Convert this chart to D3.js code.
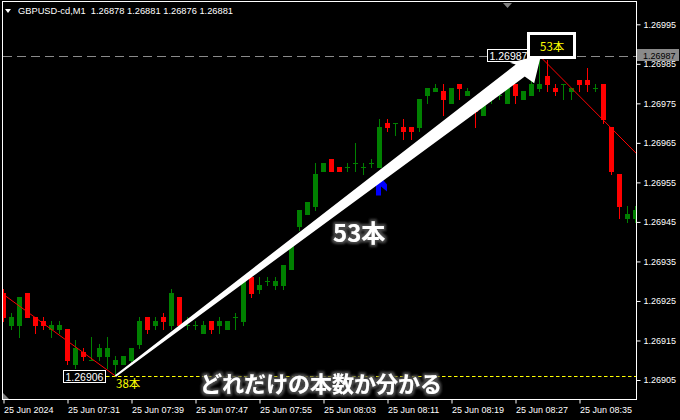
<!DOCTYPE html>
<html><head><meta charset="utf-8">
<script src="https://cdn.jsdelivr.net/npm/d3@7"></script>
<style>html,body{margin:0;padding:0;background:#000;}svg{display:block;}</style>
</head><body>
<svg id="c" width="680" height="420"></svg>
<script>
// ---- data (bar index 0 = 25 Jun 07:23, M1 bars) ----
const opens  = [1.26927,1.26919,1.26919,1.26927,1.26921,1.26920,1.26918,1.26918,1.26918,1.26909,
                1.26912,1.26910,1.26911,1.26911,1.26909,1.26909,1.26910,1.26914,1.26921,1.26919,
                1.26921,1.26919,1.26926,1.26919,1.26919,1.26917,1.26920,1.26919,1.26918,1.26921,
                1.26920,1.26931,1.26928,1.26930,1.26929,1.26929,1.26933,1.26944,1.26947,1.26949,
                1.26958,1.26961,1.26959,1.26959,1.26960,1.26959,1.26960,1.26959,1.26970,1.26970,
                1.26969,1.26969,1.26969,1.26977,1.26978,1.26978,1.26975,1.26980,1.26977,1.26976,
                1.26972,1.26976,1.26977,1.26975,1.26980,1.26976,1.26977,1.26979,1.26982,1.26979,
                1.26980,1.26978,1.26981,1.26981,1.26979,1.26980,1.26969,1.26957,1.26946,1.26946];
const highs  = [1.26928,1.26922,1.26926,1.26927,1.26921,1.26921,1.26920,1.26920,1.26918,1.26915,
                1.26913,1.26916,1.26914,1.26916,1.26911,1.26911,1.26913,1.26921,1.26921,1.26921,
                1.26922,1.26928,1.26926,1.26921,1.26920,1.26920,1.26920,1.26921,1.26920,1.26922,
                1.26930,1.26931,1.26931,1.26931,1.26931,1.26934,1.26940,1.26948,1.26950,1.26960,
                1.26960,1.26961,1.26959,1.26960,1.26965,1.26960,1.26961,1.26971,1.26971,1.26970,
                1.26971,1.26969,1.26976,1.26979,1.26980,1.26980,1.26979,1.26980,1.26979,1.26976,
                1.26975,1.26978,1.26978,1.26979,1.26980,1.26978,1.26981,1.26987,1.26986,1.26980,
                1.26980,1.26979,1.26981,1.26984,1.26980,1.26980,1.26969,1.26957,1.26949,1.26949];
const lows   = [1.26920,1.26918,1.26916,1.26921,1.26917,1.26918,1.26916,1.26917,1.26909,1.26908,
                1.26910,1.26910,1.26910,1.26908,1.26906,1.26909,1.26909,1.26913,1.26917,1.26918,
                1.26918,1.26918,1.26919,1.26918,1.26918,1.26917,1.26917,1.26917,1.26918,1.26918,
                1.26919,1.26926,1.26927,1.26929,1.26928,1.26928,1.26933,1.26943,1.26947,1.26948,
                1.26958,1.26958,1.26958,1.26958,1.26958,1.26957,1.26959,1.26959,1.26968,1.26967,
                1.26966,1.26966,1.26968,1.26975,1.26978,1.26972,1.26975,1.26976,1.26977,1.26969,
                1.26972,1.26975,1.26976,1.26975,1.26975,1.26976,1.26977,1.26978,1.26978,1.26977,
                1.26976,1.26976,1.26978,1.26978,1.26978,1.26970,1.26957,1.26946,1.26945,1.26945];
const closes = [1.26921,1.26921,1.26926,1.26921,1.26919,1.26919,1.26919,1.26919,1.26910,1.26913,
                1.26911,1.26910,1.26913,1.26913,1.26910,1.26911,1.26913,1.26920,1.26918,1.26920,
                1.26920,1.26927,1.26919,1.26919,1.26919,1.26919,1.26918,1.26920,1.26920,1.26921,
                1.26930,1.26927,1.26929,1.26930,1.26930,1.26934,1.26940,1.26948,1.26950,1.26957,
                1.26960,1.26958,1.26958,1.26959,1.26960,1.26959,1.26960,1.26969,1.26969,1.26970,
                1.26968,1.26968,1.26976,1.26979,1.26979,1.26976,1.26979,1.26979,1.26978,1.26973,
                1.26975,1.26977,1.26977,1.26979,1.26977,1.26978,1.26980,1.26980,1.26980,1.26978,
                1.26980,1.26979,1.26980,1.26980,1.26979,1.26971,1.26958,1.26949,1.26947,1.26948];
const priceTicks = [1.26905,1.26915,1.26925,1.26935,1.26945,1.26955,1.26965,1.26975,1.26985,1.26995];
const timeTickIdx = [0,8,16,24,32,40,48,56,64,72];
const timeTickLabels = ["25 Jun 2024","25 Jun 07:31","25 Jun 07:39","25 Jun 07:47","25 Jun 07:55",
                        "25 Jun 08:03","25 Jun 08:11","25 Jun 08:19","25 Jun 08:27","25 Jun 08:35"];
const titleText = "GBPUSD-cd,M1  1.26878 1.26881 1.26876 1.26881";
const lowIdx = 14, lowPrice = 1.26906;
const highIdx = 67, highPrice = 1.26987;
const trendDown1 = [[-24, 1.26962], [14, 1.26906]];
const trendDown2 = [[67, 1.26987], [80, 1.269605]];
const hLinePrice = 1.26987;
const signalIdx = 47, signalPrice = 1.26956;
const barsUp = "53本", barsDown = "38本";
const caption = "どれだけの本数か分かる";

// ---- scales ----
const svg = d3.select("#c");
const x = d3.scaleLinear().domain([0, 79]).range([3.5, 635.5]);
const y = d3.scaleLinear().domain([1.26905, 1.26995]).range([380, 24.3]);
const PL = 3, PR = 636, PT = 2, PB = 399;

svg.append("rect").attr("width",680).attr("height",420).attr("fill","#000");
const defs = svg.append("defs");
defs.append("clipPath").attr("id","plot").append("rect")
  .attr("x",PL).attr("y",PT).attr("width",PR-PL).attr("height",PB-PT);
const f = defs.append("filter").attr("id","glow").attr("x","-20%").attr("y","-40%").attr("width","140%").attr("height","180%");
f.append("feMorphology").attr("in","SourceAlpha").attr("operator","dilate").attr("radius",2).attr("result","d");
f.append("feGaussianBlur").attr("in","d").attr("stdDeviation",1.2).attr("result","b");
f.append("feFlood").attr("flood-color","#4a4a4a");
f.append("feComposite").attr("in2","b").attr("operator","in").attr("result","s");
const fm = f.append("feMerge");
fm.append("feMergeNode").attr("in","s");
fm.append("feMergeNode").attr("in","SourceGraphic");

const plot = svg.append("g").attr("clip-path","url(#plot)");

// grey horizontal line
plot.append("line").attr("x1",PL).attr("x2",PR)
  .attr("y1",Math.round(y(hLinePrice))+0.5).attr("y2",Math.round(y(hLinePrice))+0.5)
  .attr("stroke","#8a8a8a").attr("stroke-width",1).attr("stroke-dasharray","9,5");

// candles
const bars = d3.range(opens.length).map(i => ({i, o:opens[i], h:highs[i], l:lows[i], c:closes[i]}));
const col = d => d.c < d.o ? "#ff0000" : "#008000";
const cg = plot.append("g");
cg.selectAll("rect.w").data(bars).join("rect").attr("class","w")
  .attr("x", d => x(d.i) - 0.5).attr("width", 1)
  .attr("y", d => Math.round(y(d.h)))
  .attr("height", d => Math.round(y(d.l)) - Math.round(y(d.h)) + 1)
  .attr("fill", col);
cg.selectAll("rect.b").data(bars).join("rect").attr("class","b")
  .attr("x", d => x(d.i) - 2.5).attr("width", 5)
  .attr("y", d => Math.round(y(Math.max(d.o,d.c))))
  .attr("height", d => Math.round(y(Math.min(d.o,d.c))) - Math.round(y(Math.max(d.o,d.c))) + 1)
  .attr("fill", col);

// red trend lines
[trendDown1, trendDown2].forEach(t => {
  plot.append("line").attr("x1",x(t[0][0])).attr("y1",y(t[0][1]))
    .attr("x2",x(t[1][0])).attr("y2",y(t[1][1]))
    .attr("stroke","#ff0000").attr("stroke-width",1);
});

// yellow dashed line at low
plot.append("line").attr("x1",106).attr("x2",PR)
  .attr("y1",Math.round(y(lowPrice))+0.5).attr("y2",Math.round(y(lowPrice))+0.5)
  .attr("stroke","#ffff00").attr("stroke-width",1).attr("stroke-dasharray","3.5,2.5");

// blue signal arrow
{
  const ax = x(signalIdx), ay = y(signalPrice);
  const pts = [[-3.5,17],[1.5,17],[1.5,8],[7.5,13],[7.5,6],[1.5,-1],[-3.5,4]];
  plot.append("polygon").attr("points", pts.map(p => [ax+p[0], ay+p[1]].join(",")).join(" "))
    .attr("fill","#0000ff");
}

// price box near high
const hb = plot.append("g");
hb.append("rect").attr("x",487.5).attr("y",49.5).attr("width",40).attr("height",12)
  .attr("fill","#000").attr("stroke","#fff").attr("stroke-width",1);
hb.append("text").attr("x",489.5).attr("y",59.5).attr("fill","#fff")
  .attr("font-family","Liberation Sans, Arial, sans-serif").attr("font-size",10.5).text(hLinePrice.toFixed(5));

// white tapered arrow from low to high
{
  const S = [x(lowIdx), y(lowPrice)], T = [x(highIdx)+1.5, y(highPrice)-1];
  const dx = T[0]-S[0], dy = T[1]-S[1], len = Math.hypot(dx,dy);
  const u = [dx/len, dy/len], p = [-u[1], u[0]];
  const at = (a, w) => [T[0]-u[0]*a+p[0]*w, T[1]-u[1]*a+p[1]*w];
  const Sp = (w) => [S[0]+p[0]*w, S[1]+p[1]*w];
  const poly = [Sp(1), at(26,7.5), at(30,-13), T, at(23,18.5), at(26,-7.5).map((v,i)=>v), Sp(-1)];
  // p points to the upper-left side here; keep wings on both sides
  plot.append("polygon").attr("points", [Sp(-1), at(26,-7.5), at(29.5,-12.5), T, at(22.5,18.5), at(26,7.5), Sp(1)]
      .map(q => q.join(",")).join(" ")).attr("fill","#fff");
}

// 53本 box
svg.append("rect").attr("x",528.5).attr("y",33.5).attr("width",46).attr("height",24)
  .attr("fill","#000").attr("stroke","#fff").attr("stroke-width",3);
svg.append("text").attr("x",540).attr("y",51).attr("fill","#ffff00")
  .attr("font-family","Noto Sans CJK JP, sans-serif").attr("font-size",11.5).text(barsUp);

// low box + 38本
svg.append("rect").attr("x",63.5).attr("y",370.5).attr("width",42).attr("height",12)
  .attr("fill","#000").attr("stroke","#fff").attr("stroke-width",1);
svg.append("text").attr("x",65.5).attr("y",380.6).attr("fill","#fff")
  .attr("font-family","Liberation Sans, Arial, sans-serif").attr("font-size",10.5).text(lowPrice.toFixed(5));
svg.append("text").attr("x",116).attr("y",388).attr("fill","#ffff00")
  .attr("font-family","Noto Sans CJK JP, sans-serif").attr("font-size",11.5).text(barsDown);

// big captions
svg.append("text").attr("x",333).attr("y",242).attr("fill","#fff").attr("filter","url(#glow)")
  .attr("font-family","Noto Sans CJK JP, sans-serif").attr("font-weight",700).attr("font-size",24).text(barsUp);
svg.append("text").attr("x",200).attr("y",392).attr("fill","#fff").attr("filter","url(#glow)")
  .attr("font-family","Noto Sans CJK JP, sans-serif").attr("font-weight",700).attr("font-size",22).text(caption);

// small markers
svg.append("polygon").attr("points","503,3 512,3 507.5,8").attr("fill","#808080");
svg.append("polygon").attr("points","3,393 3,399 9,399").attr("fill","#808080");

// title
svg.append("polygon").attr("points","5,9 11,9 8,13").attr("fill","#fff");
svg.append("text").attr("x",18).attr("y",14).attr("fill","#fff").style("white-space","pre")
  .attr("font-family","Liberation Sans, Arial, sans-serif").attr("font-size",9.3).text(titleText);

// axes
const ay = svg.append("g").attr("transform",`translate(${PR+0.5},0)`)
  .call(d3.axisRight(y).tickValues(priceTicks).tickSize(4).tickPadding(3).tickFormat(d3.format(".5f")));
const axb = svg.append("g").attr("transform",`translate(0,${PB+0.5})`)
  .call(d3.axisBottom(x).tickValues(timeTickIdx).tickSize(4).tickPadding(3).tickFormat((d,i) => timeTickLabels[i]));
[ay, axb].forEach(a => {
  a.select(".domain").remove();
  a.selectAll("line").attr("stroke","#fff");
  a.selectAll("text").attr("fill","#fff").attr("font-family","Liberation Sans, Arial, sans-serif").attr("font-size",9);
});
axb.selectAll("text").attr("text-anchor","start");

// price label on axis for horizontal line
svg.append("rect").attr("x",637).attr("y",49).attr("width",42).attr("height",12).attr("fill","#8a8a8a");
svg.append("text").attr("x",643).attr("y",58.5).attr("fill","#000")
  .attr("font-family","Liberation Sans, Arial, sans-serif").attr("font-size",9).text(hLinePrice.toFixed(5));

// frame
svg.append("rect").attr("x",PL-0.5).attr("y",PT-0.5).attr("width",PR-PL+1).attr("height",PB-PT+1)
  .attr("fill","none").attr("stroke","#fff").attr("stroke-width",1);
</script>
</body></html>
